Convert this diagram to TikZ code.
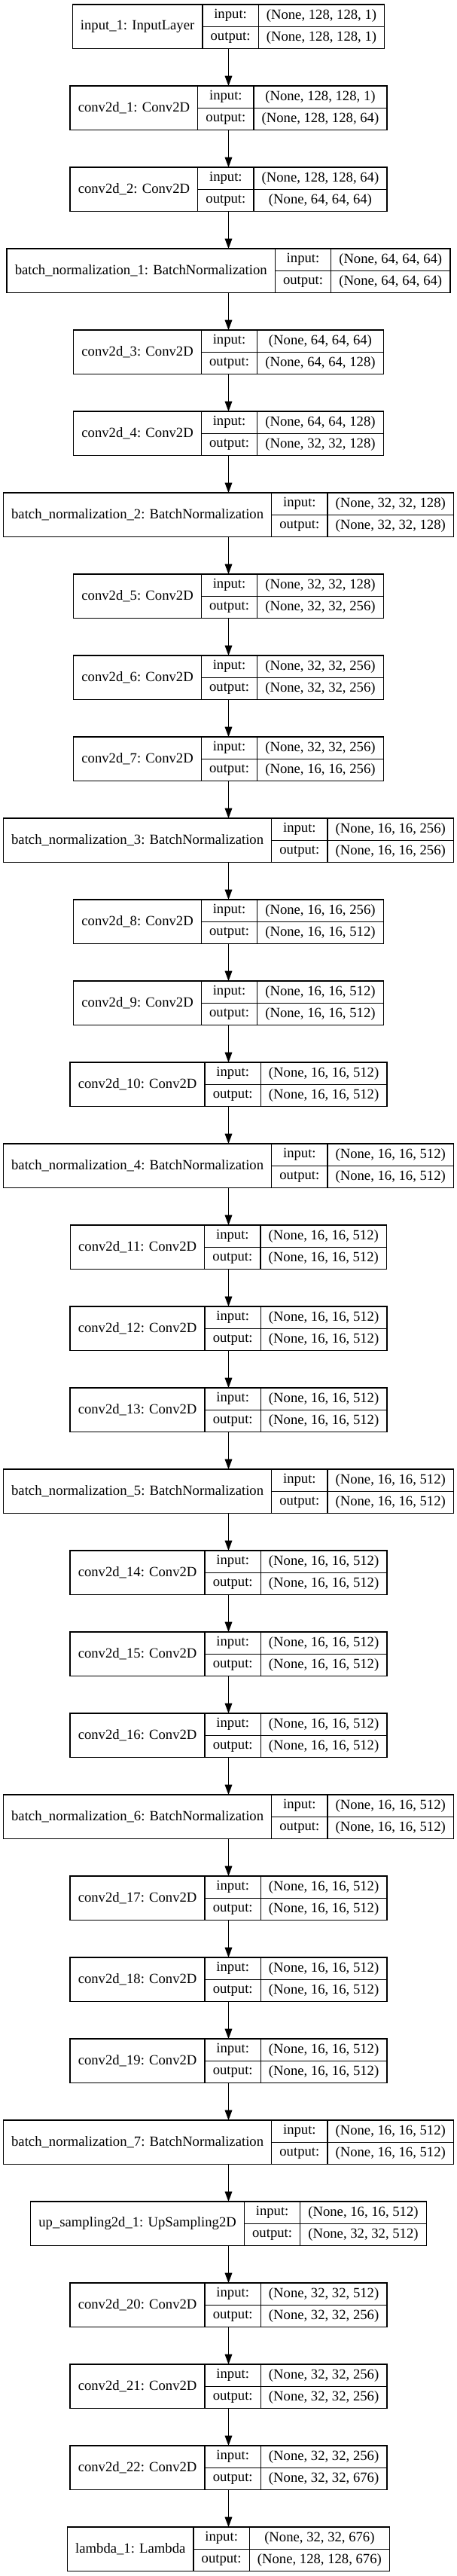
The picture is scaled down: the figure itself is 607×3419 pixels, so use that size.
\documentclass[tikz,border=0pt]{standalone}
\usepackage{fontspec}
\setmainfont{Liberation Serif}
\usetikzlibrary{arrows.meta}
\font\Lf="Liberation Serif" at 18.67pt
\newcommand\Lus{{\char"5F}}
\newlength\Lwl \newlength\Lwio \newlength\Lwa \newlength\Lwb \newlength\Lws \newlength\Lwt
\tikzset{
  rec/.style={inner sep=0pt, outer sep=0pt, minimum height=58.5pt},
  cell/.style={draw=black, line width=1.33pt, inner sep=0pt, outer sep=0pt, minimum height=29.25pt, font=\Lf, text=black},
  arr/.style={draw=black, line width=1.33pt, -{Triangle[length=13.3pt,width=9.6pt]}}
}
\newcommand\klayer[4]{%
  \settowidth\Lwl{\Lf #2}\addtolength\Lwl{21.33pt}%
  \settowidth\Lwa{\Lf #3}\settowidth\Lwb{\Lf #4}%
  \ifdim\Lwa>\Lwb \Lws=\Lwa\else\Lws=\Lwb\fi
  \addtolength\Lws{21.33pt}%
  \settowidth\Lwio{\Lf output:}\addtolength\Lwio{21.33pt}%
  \Lwt=\Lwl \addtolength\Lwt{\Lwio}\addtolength\Lwt{\Lws}%
  \pgfmathsetmacro\Ly{-(6+108*#1+29.25)}%
  \node[rec, minimum width=\Lwt] (n#1) at (303.5pt,\Ly pt) {};
  \node[cell, minimum width=\Lwl, minimum height=58.5pt, anchor=north west] (l#1) at (n#1.north west) {#2};
  \node[cell, minimum width=\Lwio, anchor=north west] (i#1) at (l#1.north east) {input:};
  \node[cell, minimum width=\Lwio, anchor=north west] (o#1) at (i#1.south west) {output:};
  \node[cell, minimum width=\Lws, anchor=north west] (si#1) at (i#1.north east) {#3};
  \node[cell, minimum width=\Lws, anchor=north west] (so#1) at (o#1.north east) {#4};
}
\begin{document}
\begin{tikzpicture}
\useasboundingbox[fill=white] (0,0) rectangle (607pt,-3419pt);
\klayer{0}{input\Lus 1: InputLayer}{(None, 128, 128, 1)}{(None, 128, 128, 1)}
\klayer{1}{conv2d\Lus 1: Conv2D}{(None, 128, 128, 1)}{(None, 128, 128, 64)}
\klayer{2}{conv2d\Lus 2: Conv2D}{(None, 128, 128, 64)}{(None, 64, 64, 64)}
\klayer{3}{batch\Lus normalization\Lus 1: BatchNormalization}{(None, 64, 64, 64)}{(None, 64, 64, 64)}
\klayer{4}{conv2d\Lus 3: Conv2D}{(None, 64, 64, 64)}{(None, 64, 64, 128)}
\klayer{5}{conv2d\Lus 4: Conv2D}{(None, 64, 64, 128)}{(None, 32, 32, 128)}
\klayer{6}{batch\Lus normalization\Lus 2: BatchNormalization}{(None, 32, 32, 128)}{(None, 32, 32, 128)}
\klayer{7}{conv2d\Lus 5: Conv2D}{(None, 32, 32, 128)}{(None, 32, 32, 256)}
\klayer{8}{conv2d\Lus 6: Conv2D}{(None, 32, 32, 256)}{(None, 32, 32, 256)}
\klayer{9}{conv2d\Lus 7: Conv2D}{(None, 32, 32, 256)}{(None, 16, 16, 256)}
\klayer{10}{batch\Lus normalization\Lus 3: BatchNormalization}{(None, 16, 16, 256)}{(None, 16, 16, 256)}
\klayer{11}{conv2d\Lus 8: Conv2D}{(None, 16, 16, 256)}{(None, 16, 16, 512)}
\klayer{12}{conv2d\Lus 9: Conv2D}{(None, 16, 16, 512)}{(None, 16, 16, 512)}
\klayer{13}{conv2d\Lus 10: Conv2D}{(None, 16, 16, 512)}{(None, 16, 16, 512)}
\klayer{14}{batch\Lus normalization\Lus 4: BatchNormalization}{(None, 16, 16, 512)}{(None, 16, 16, 512)}
\klayer{15}{conv2d\Lus 11: Conv2D}{(None, 16, 16, 512)}{(None, 16, 16, 512)}
\klayer{16}{conv2d\Lus 12: Conv2D}{(None, 16, 16, 512)}{(None, 16, 16, 512)}
\klayer{17}{conv2d\Lus 13: Conv2D}{(None, 16, 16, 512)}{(None, 16, 16, 512)}
\klayer{18}{batch\Lus normalization\Lus 5: BatchNormalization}{(None, 16, 16, 512)}{(None, 16, 16, 512)}
\klayer{19}{conv2d\Lus 14: Conv2D}{(None, 16, 16, 512)}{(None, 16, 16, 512)}
\klayer{20}{conv2d\Lus 15: Conv2D}{(None, 16, 16, 512)}{(None, 16, 16, 512)}
\klayer{21}{conv2d\Lus 16: Conv2D}{(None, 16, 16, 512)}{(None, 16, 16, 512)}
\klayer{22}{batch\Lus normalization\Lus 6: BatchNormalization}{(None, 16, 16, 512)}{(None, 16, 16, 512)}
\klayer{23}{conv2d\Lus 17: Conv2D}{(None, 16, 16, 512)}{(None, 16, 16, 512)}
\klayer{24}{conv2d\Lus 18: Conv2D}{(None, 16, 16, 512)}{(None, 16, 16, 512)}
\klayer{25}{conv2d\Lus 19: Conv2D}{(None, 16, 16, 512)}{(None, 16, 16, 512)}
\klayer{26}{batch\Lus normalization\Lus 7: BatchNormalization}{(None, 16, 16, 512)}{(None, 16, 16, 512)}
\klayer{27}{up\Lus sampling2d\Lus 1: UpSampling2D}{(None, 16, 16, 512)}{(None, 32, 32, 512)}
\klayer{28}{conv2d\Lus 20: Conv2D}{(None, 32, 32, 512)}{(None, 32, 32, 256)}
\klayer{29}{conv2d\Lus 21: Conv2D}{(None, 32, 32, 256)}{(None, 32, 32, 256)}
\klayer{30}{conv2d\Lus 22: Conv2D}{(None, 32, 32, 256)}{(None, 32, 32, 676)}
\klayer{31}{lambda\Lus 1: Lambda}{(None, 32, 32, 676)}{(None, 128, 128, 676)}
\foreach \i [evaluate=\i as \j using int(\i+1)] in {0,...,30}
  \draw[arr] (n\i.south) -- (n\j.north);
\end{tikzpicture}
\end{document}
